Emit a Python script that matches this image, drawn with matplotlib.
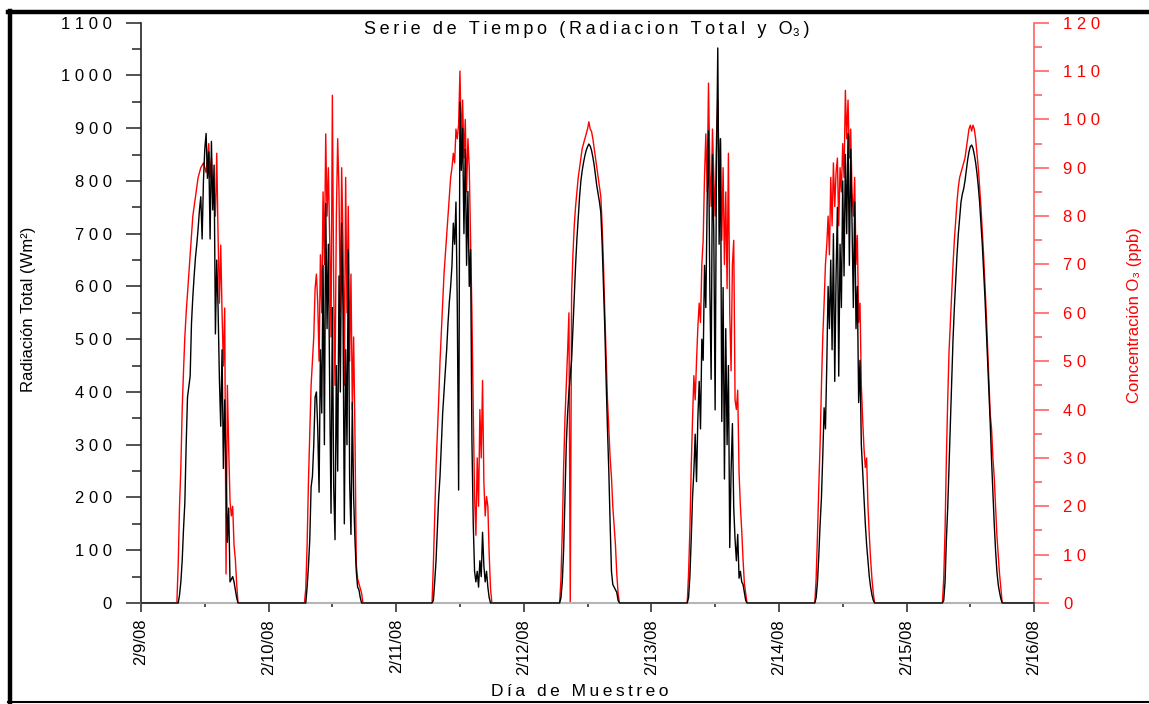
import numpy as np
import pandas as pd
import matplotlib
matplotlib.use("Agg")
import matplotlib.pyplot as plt
import matplotlib.dates as mdates
from matplotlib.ticker import MultipleLocator, FuncFormatter
from matplotlib.lines import Line2D

plt.rcParams['font.family'] = ['Liberation Sans', 'DejaVu Sans']

# sampling days and daytime hours (15 min steps, 6:45 .. 18:15)
days = ["2008-02-09", "2008-02-10", "2008-02-11", "2008-02-12",
        "2008-02-13", "2008-02-14", "2008-02-15"]
hours = np.arange(6.75, 18.26, 0.25)

# total radiation (W/m2), one row per hour
rad_0209 = [0,
            0, 15, 40, 80,
            140, 190, 300, 390,
            410, 430, 530, 580,
            620, 655, 680, 710,
            745, 770, 690, 800,
            860, 890, 805, 855,
            690, 875, 745, 830,
            510, 650, 560, 425,
            335, 480, 255, 385,
            250, 115, 180, 40,
            45, 50, 40, 25,
            10, 0]
rad_0210 = [0,
            0, 30, 70, 120,
            220, 240, 300, 390,
            400, 330, 210, 480,
            360, 640, 300, 757,
            520, 680, 400, 170,
            560, 220, 120, 450,
            250, 620, 400, 720,
            560, 150, 480, 300,
            670, 230, 130, 380,
            200, 120, 60, 30,
            25, 10, 0, 0,
            0, 0]
rad_0211 = [0,
            5, 40, 80, 140,
            200, 240, 300, 360,
            400, 440, 480, 530,
            570, 600, 640, 720,
            680, 760, 560, 214,
            949, 820, 900, 700,
            860, 640, 780, 600,
            670, 310, 150, 60,
            40, 60, 30, 80,
            50, 134, 70, 40,
            60, 30, 10, 0,
            0, 0]
rad_0212 = [0,
            10, 40, 100, 200,
            300, 360, 400, 430,
            460, 520, 580, 640,
            690, 730, 770, 800,
            820, 835, 848, 858,
            865, 870, 866, 858,
            845, 830, 810, 790,
            775, 760, 740, 680,
            600, 520, 420, 330,
            250, 150, 60, 35,
            30, 25, 20, 5,
            0, 0]
rad_0213 = [0,
            10, 50, 120, 200,
            250, 320, 230, 350,
            420, 330, 500, 460,
            640, 560, 760, 895,
            600, 424, 850, 700,
            366, 830, 1052, 680,
            880, 344, 598, 235,
            520, 300, 450, 105,
            250, 340, 180, 120,
            80, 130, 47, 60,
            40, 35, 20, 5,
            0, 0]
rad_0214 = [0,
            10, 40, 90, 150,
            200, 280, 370, 330,
            450, 600, 520, 650,
            480, 700, 420, 620,
            750, 430, 680, 560,
            800, 620, 850, 700,
            890, 640, 860, 720,
            560, 760, 520, 600,
            380, 460, 300, 250,
            200, 150, 110, 80,
            50, 30, 15, 5,
            0, 0]
rad_0215 = [0,
            5, 40, 120, 180,
            260, 340, 420, 500,
            560, 610, 660, 700,
            730, 760, 775, 785,
            800, 820, 840, 855,
            865, 868, 862, 850,
            835, 815, 790, 760,
            720, 680, 630, 580,
            520, 460, 400, 340,
            270, 210, 150, 100,
            60, 35, 20, 8,
            0, 0]

# ozone concentration (ppb)
o3_0209 = [0,
           8, 20, 28, 40,
           48, 55, 60, 64,
           68, 72, 76, 80,
           82, 84, 86, 88,
           89, 90, 90.5, 91,
           90, 89, 92, 95,
           88, 92, 83, 86,
           80, 93, 76, 62,
           74, 60, 49, 61,
           6, 45, 32, 21,
           18, 20, 12, 9,
           4, 0]
o3_0210 = [0,
           3, 12, 25, 35,
           45, 50, 55, 65,
           68, 62, 50, 72,
           60, 85, 70, 97,
           80, 90, 75, 55,
           105, 65, 45, 80,
           96, 85, 60, 90,
           75, 45, 88, 60,
           82, 50, 68, 40,
           55, 35, 8, 5,
           4, 3, 2, 0,
           0, 0]
o3_0211 = [0,
           8, 18, 28, 35,
           42, 50, 56, 62,
           68, 72, 76, 80,
           84, 88, 90, 93,
           91, 98, 96, 99,
           110, 95, 104, 92,
           100, 85, 96, 90,
           75, 60, 40, 22,
           14, 30, 20, 40,
           30, 46, 25, 18,
           22, 20, 10, 3,
           0, 0]
o3_0212 = [0,
           5, 15, 28, 38,
           45, 52, 60, 0,
           64, 72, 78, 82,
           85, 88, 90, 92,
           94, 95, 96, 97,
           98, 99.5, 98, 97.5,
           96, 94, 92, 90,
           88, 86, 84, 78,
           70, 60, 51, 42,
           36, 30, 26, 20,
           16, 12, 6, 2,
           0, 0]
o3_0213 = [0,
           6, 15, 28, 38,
           47, 42, 50, 57,
           62, 58, 70, 75,
           88, 97, 85, 107.5,
           90, 82, 98, 88,
           80, 96, 104, 88,
           96, 75, 90, 70,
           85, 65, 93, 60,
           48, 70, 75, 42,
           40, 44, 27, 20,
           15, 9, 4, 2,
           0, 0]
o3_0214 = [0,
           5, 14, 24, 33,
           45, 55, 62, 70,
           74, 80, 72, 88,
           78, 91, 82, 89,
           92, 78, 90, 85,
           95, 88, 106, 96,
           104, 92, 98, 85,
           80, 88, 70, 76,
           58, 62, 45, 38,
           32, 28, 30, 20,
           14, 9, 5, 2,
           0, 0]
o3_0215 = [0,
           5, 15, 30, 42,
           52, 58, 64, 70,
           75, 79, 83, 86,
           88, 89, 90, 91,
           92, 94, 96, 98,
           98.8, 97.6, 98.8, 98,
           96, 93, 90, 86,
           82, 77, 72, 66,
           60, 53, 46, 39,
           36, 30, 26, 20,
           14, 10, 6, 3,
           0, 0]

rad_days = [rad_0209, rad_0210, rad_0211, rad_0212, rad_0213, rad_0214, rad_0215]
o3_days = [o3_0209, o3_0210, o3_0211, o3_0212, o3_0213, o3_0214, o3_0215]

# build the full series (zero at night)
t, rad, o3 = [], [], []
for day, r, o in zip(days, rad_days, o3_days):
    assert len(r) == len(hours) and len(o) == len(hours)
    base = pd.Timestamp(day)
    t += [base] + [base + pd.Timedelta(hours=float(h)) for h in hours]
    rad += [0] + r
    o3 += [0] + o
t.append(pd.Timestamp("2008-02-16"))
rad.append(0)
o3.append(0)
t = pd.to_datetime(t)


def spaced(s, sep='\u2009'):
    return sep.join(s)


fig = plt.figure(figsize=(11.49, 7.04), dpi=100)
ax = fig.add_axes([0.1227, 0.1435, 0.7773, 0.8243])
ax2 = ax.twinx()
ax.set_zorder(2)
ax.patch.set_visible(False)

ax2.plot(t, o3, color='#ff0000', lw=1.0, clip_on=False)
ax.plot(t, rad, color='black', lw=1.0, clip_on=False, zorder=3)

ax.set_xlim(pd.Timestamp("2008-02-09"), pd.Timestamp("2008-02-16"))
ax.set_ylim(0, 1100)
ax2.set_ylim(0, 120)

ax.yaxis.set_major_locator(MultipleLocator(100))
ax.yaxis.set_minor_locator(MultipleLocator(50))
ax2.yaxis.set_major_locator(MultipleLocator(10))
ax2.yaxis.set_minor_locator(MultipleLocator(5))
digits = FuncFormatter(lambda v, p: " ".join(f"{int(round(v))}"))
ax.yaxis.set_major_formatter(digits)
ax2.yaxis.set_major_formatter(digits)

ax.xaxis.set_major_locator(mdates.DayLocator())
ax.xaxis.set_minor_locator(mdates.HourLocator(byhour=[12]))
ax.xaxis.set_major_formatter(FuncFormatter(
    lambda v, p: "{d.month}/{d.day}/{y}".format(d=mdates.num2date(v), y=mdates.num2date(v).strftime("%y"))))

for s in ['top', 'right']:
    ax.spines[s].set_visible(False)
ax.spines['left'].set_color('#222222')
ax.spines['left'].set_linewidth(1.2)
ax.spines['bottom'].set_color('#b5b5b5')
ax.spines['bottom'].set_linewidth(1.5)
for s in ['top', 'left', 'bottom']:
    ax2.spines[s].set_visible(False)
ax2.spines['right'].set_color('#ff6464')
ax2.spines['right'].set_linewidth(1.2)

ax.tick_params(axis='y', which='major', length=10.8, width=1.2, color='#333333',
               pad=10, labelsize=12)
ax.tick_params(axis='y', which='minor', length=6.5, width=1.2, color='#333333')
ax2.tick_params(axis='y', which='major', length=10.8, width=1.2, color='#ff6464',
                labelcolor='#ff0000', pad=10, labelsize=12)
ax2.tick_params(axis='y', which='minor', length=5.5, width=1.2, color='#ff6464')
ax.tick_params(axis='x', which='major', length=6.5, width=1.2, color='#333333',
               pad=5, labelsize=12, labelrotation=90)
ax.tick_params(axis='x', which='minor', length=3, width=1.2, color='#333333')

fig.text(587 / 1149, 1 - 30 / 704,
         spaced("Serie de Tiempo (Radiacion Total y O") + "\u2083" + "\u2009)",
         ha='center', va='center', fontsize=13)
fig.text(580 / 1149, 1 - 692 / 704, spaced("Día de Muestreo"),
         ha='center', va='center', fontsize=12.5)
fig.text(29 / 1149, 1 - 309 / 704, "Radiación Total (Wm\u00b2)",
         rotation=90, ha='center', va='center', fontsize=12)
fig.text(1135 / 1149, 1 - 315 / 704, "Concentración O\u2083 (ppb)",
         rotation=90, ha='center', va='center', fontsize=12, color='#ff0000')

# frame around the figure
fig.add_artist(Line2D([0.007, 1.0], [0.983, 0.983], transform=fig.transFigure,
                      color='black', lw=3.2))
fig.add_artist(Line2D([0.0083, 0.0083], [0.002, 0.985], transform=fig.transFigure,
                      color='black', lw=3.2))
fig.add_artist(Line2D([0.007, 1.0], [0.003, 0.003], transform=fig.transFigure,
                      color='black', lw=1.5))

fig.savefig("out.png", dpi=100)
